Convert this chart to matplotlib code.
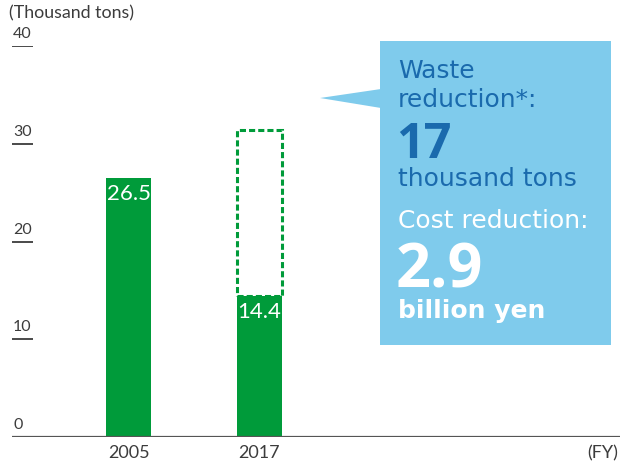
import matplotlib.pyplot as plt
from matplotlib.patches import Rectangle, Polygon

years = ['2005', '2017']
waste = [26.5, 14.4]            # thousand tons
waste_reduction = 17            # thousand tons
cost_reduction = 2.9            # billion yen
y_ticks = [0, 10, 20, 30, 40]

plt.rcParams['font.family'] = ['Open Sans', 'DejaVu Sans']

W, H = 621, 466
green = '#009b3a'
grey = '#3c3c3c'
box_blue = '#7fcbec'
dark_blue = '#1a6aad'


def fx(px):
    return px / W


def fy(py):
    # pixel from top -> figure fraction
    return 1 - py / H


fig = plt.figure(figsize=(W / 100, H / 100), dpi=100)
ax = fig.add_axes([fx(12), fy(437), fx(620) - fx(12), fy(46) - fy(437)])

xs = list(range(len(years)))
bar_w = 0.345
ax.bar(xs, waste, width=bar_w, color=green, zorder=2)

# dashed outline showing the reduction on top of the 2017 bar
ax.bar(xs[1], waste_reduction, bottom=waste[1], width=bar_w, fill=False,
       edgecolor=green, linestyle=(0, (2, 1)), linewidth=2.2, zorder=2)

for x, v in zip(xs, waste):
    ax.text(x, v - 0.6, f'{v:.1f}', ha='center', va='top', color='white',
            fontsize=16, fontfamily='Lato')

ax.set_xlim(-0.893, 3.766)
ax.set_ylim(0, 40)
for s in ax.spines.values():
    s.set_visible(False)
ax.set_xticks([])
ax.set_yticks([])

# baseline
ax.axhline(0, color='#555555', linewidth=1.6, zorder=3)

# short underlines with tick labels above them
for t in y_ticks[1:]:
    ax.plot([-0.893, -0.73], [t, t], color=grey, linewidth=1.3,
            solid_capstyle='butt')
for t in y_ticks:
    ax.text(-0.885, t + 0.5, str(t), ha='left', va='bottom', color=grey,
            fontsize=11.5, fontfamily='Lato')

for x, y in zip(xs, years):
    ax.text(x, -0.8, y, ha='center', va='top', color=grey, fontsize=13,
            fontfamily='Lato')
ax.text(3.75, -0.8, '(FY)', ha='right', va='top', color=grey, fontsize=13,
        fontfamily='Lato')

fig.text(fx(9), fy(13), '(Thousand tons)', ha='left', va='center', color=grey,
         fontsize=12.8, fontfamily='Lato')

# callout box
fig.patches.append(Rectangle((fx(380), fy(345)), fx(611) - fx(380),
                             fy(41) - fy(345), transform=fig.transFigure,
                             facecolor=box_blue, edgecolor='none'))
fig.patches.append(Polygon([(fx(320), fy(98)), (fx(381), fy(89)),
                            (fx(381), fy(108))], closed=True,
                           transform=fig.transFigure, facecolor=box_blue,
                           edgecolor='none'))

tx = fx(398)
txt = dict(fontsize=18, va='baseline', fontfamily='DejaVu Sans')
fig.text(tx, fy(78), 'Waste', color=dark_blue, **txt)
fig.text(tx, fy(107), 'reduction*:', color=dark_blue, **txt)
fig.text(tx - fx(2), fy(158), f'{waste_reduction}', color=dark_blue,
         fontsize=35, fontweight='bold', va='baseline')
fig.text(tx, fy(186), 'thousand tons', color=dark_blue, **txt)
fig.text(tx, fy(228), 'Cost reduction:', color='white', **txt)
fig.text(tx - fx(2), fy(287), f'{cost_reduction}', color='white', fontsize=44,
         fontweight='bold', va='baseline')
fig.text(tx, fy(318), 'billion yen', color='white', fontweight='bold', **txt)

fig.savefig('out.png', dpi=100)
